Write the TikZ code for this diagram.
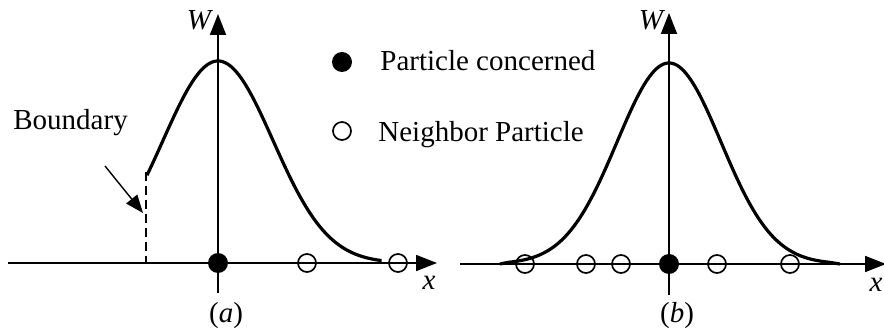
\documentclass[tikz,border=0pt]{standalone}
\usepackage{fontspec}
\setmainfont{Liberation Serif}
\usetikzlibrary{arrows.meta}
\begin{document}
\begin{tikzpicture}[x=0.5pt,y=-0.5pt,
  axis/.style={line width=0.9pt,-{Triangle[length=10.5pt,width=8pt]}},
  curve/.style={line width=1.6pt},
  full/.style={circle,fill=black,inner sep=0pt,minimum size=10pt},
  hollow/.style={circle,draw=black,line width=0.85pt,inner sep=0pt,minimum size=9pt},
  lbl/.style={font=\fontsize{14.5}{17}\selectfont,inner sep=0pt}]
\useasboundingbox (0,0) rectangle (884,336);
% ---------- panel (a)
\coordinate (ax0) at (8,263); \coordinate (ax1) at (437,263);
\coordinate (ay0) at (218,293); \coordinate (ay1) at (218,14);
\draw[axis] (ax0) -- (ax1);
\draw[axis] (ay0) -- (ay1);
\draw[curve] plot[domain=-71:162,samples=120,smooth]
  ({218+\x},{263-202*exp(-0.5*(\x/55)*(\x/55))}) -- (380,263);
\coordinate (bt) at (146,172); \coordinate (bb) at (146,263);
\draw[line width=1.4pt,dash pattern=on 4.5pt off 2.5pt] (bt) -- (bb);
\node[lbl,anchor=base west] (bnd) at (13,130) {Boundary};
\coordinate (ba0) at (105,166); \coordinate (ba1) at (143,213);
\draw[line width=0.7pt,-{Triangle[length=9pt,width=7pt]}] (ba0) -- (ba1);
\node[full] (pa0) at (218,263) {};
\node[hollow] (pa1) at (307,263) {};
\node[hollow] (pa2) at (398,263) {};
\node[lbl,anchor=base] (wa) at (200,30) {\textit{W}};
\node[lbl,anchor=base] (xa) at (429,290) {\textit{x}};
\node[lbl,anchor=base] (la) at (226,323) {(\textit{a})};
% ---------- legend
\node[full] (lg1) at (342,62) {};
\node[lbl,anchor=base west] (lt1) at (380,71) {Particle concerned};
\node[hollow] (lg2) at (342,131) {};
\node[lbl,anchor=base west] (lt2) at (378,142) {Neighbor Particle};
% ---------- panel (b)
\coordinate (bx0) at (460,264); \coordinate (bx1) at (886,264);
\coordinate (by0) at (669,295); \coordinate (by1) at (669,13);
\draw[axis] (bx0) -- (bx1);
\draw[axis] (by0) -- (by1);
\draw[curve] (500,264) -- plot[domain=-160:160,samples=140,smooth]
  ({669+\x},{264-201*exp(-0.5*(\x/52)*(\x/52))}) -- (840,264);
\node[full] (pb0) at (669,264) {};
\node[hollow] (pb1) at (525,264) {};
\node[hollow] (pb2) at (586,264) {};
\node[hollow] (pb3) at (621,264) {};
\node[hollow] (pb4) at (717,264) {};
\node[hollow] (pb5) at (790,264) {};
\node[lbl,anchor=base] (wb) at (652,30) {\textit{W}};
\node[lbl,anchor=base east] (xb) at (883,292) {\textit{x}};
\node[lbl,anchor=base] (lb) at (677,323) {(\textit{b})};
\end{tikzpicture}
\end{document}
